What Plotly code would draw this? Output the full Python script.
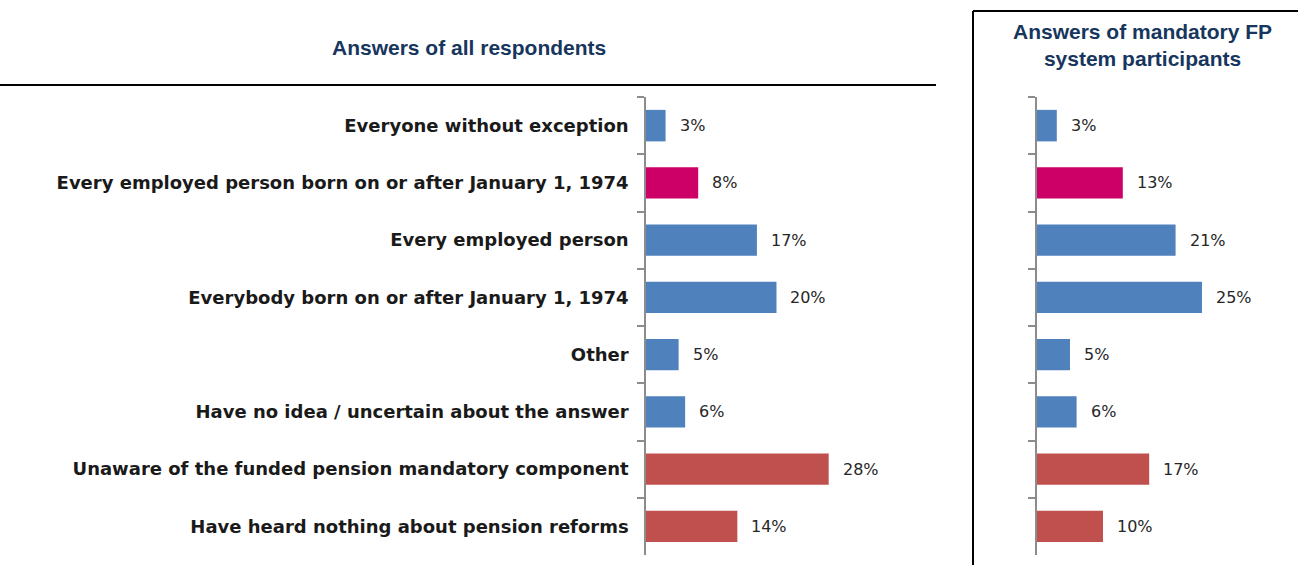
import plotly.graph_objects as go

# Survey answers: who participates in the mandatory funded pension component
categories = [
    "Everyone without exception",
    "Every employed person born on or after January 1, 1974",
    "Every employed person",
    "Everybody born on or after January 1, 1974",
    "Other",
    "Have no idea / uncertain about the answer",
    "Unaware of the funded pension mandatory component",
    "Have heard nothing about pension reforms",
]
all_respondents = [3, 8, 17, 20, 5, 6, 28, 14]
fp_participants = [3, 13, 21, 25, 5, 6, 17, 10]

BLUE = "#4F81BD"
MAGENTA = "#CC0066"
RED = "#C0504D"
bar_colors = [BLUE, MAGENTA, BLUE, BLUE, BLUE, BLUE, RED, RED]

title_left = "Answers of all respondents"
title_right = "Answers of mandatory FP<br>system participants"

W, H = 1298, 565
label_font = dict(family="DejaVu Sans", size=16, color="#262626")
cat_font = dict(family="DejaVu Sans", size=18, color="#1a1a1a", weight="bold")
title_font = dict(family="Liberation Sans", size=21, color="#17365D", weight="bold")

fig = go.Figure()
fig.add_trace(go.Bar(
    x=all_respondents, y=categories, orientation="h",
    marker=dict(color=bar_colors, line=dict(width=0)),
    xaxis="x", yaxis="y", hoverinfo="x+y",
))
fig.add_trace(go.Bar(
    x=fp_participants, y=categories, orientation="h",
    marker=dict(color=bar_colors, line=dict(width=0)),
    xaxis="x2", yaxis="y2", hoverinfo="x+y",
))

# value labels to the right of each bar
annotations = []
for xref, yref, vals in (("x", "y", all_respondents), ("x2", "y2", fp_participants)):
    for cat, v in zip(categories, vals):
        annotations.append(dict(
            x=v, y=cat, xref=xref, yref=yref, text=f"{v}%",
            showarrow=False, xanchor="left", yanchor="middle",
            xshift=12, font=label_font,
        ))

annotations.append(dict(
    x=469 / W, y=1 - 47 / H, xref="paper", yref="paper", text=title_left,
    showarrow=False, xanchor="center", yanchor="middle", font=title_font,
))
annotations.append(dict(
    x=1142 / W, y=1 - 45 / H, xref="paper", yref="paper", text=title_right,
    showarrow=False, xanchor="center", yanchor="middle", font=title_font,
))

y_dom = [(H - 555) / H, (H - 97) / H]
axis_common = dict(
    type="category", autorange="reversed", tickson="boundaries",
    ticks="outside", ticklen=7, tickcolor="#8c8c8c", tickwidth=1.5,
    showline=True, linecolor="#8c8c8c", linewidth=1.5,
    showgrid=False, zeroline=False, domain=y_dom,
)
x_common = dict(visible=False, showgrid=False, zeroline=False)

fig.update_layout(
    width=W, height=H,
    margin=dict(l=0, r=0, t=0, b=0),
    paper_bgcolor="white", plot_bgcolor="rgba(0,0,0,0)",
    showlegend=False, bargap=0.45,
    xaxis=dict(domain=[646 / W, 937 / W], range=[0, 44.6], **x_common),
    xaxis2=dict(domain=[1037 / W, 1297 / W], range=[0, 39.4], **x_common),
    yaxis=dict(anchor="x", tickfont=cat_font, ticklabelstandoff=12, **axis_common),
    yaxis2=dict(anchor="x2", showticklabels=False, **axis_common),
    annotations=annotations,
    shapes=[
        dict(type="line", xref="paper", yref="paper",
             x0=0, x1=936 / W, y0=1 - 85 / H, y1=1 - 85 / H,
             line=dict(color="black", width=2)),
        dict(type="line", xref="paper", yref="paper",
             x0=973 / W, x1=973 / W, y0=0, y1=1 - 11 / H,
             line=dict(color="black", width=2)),
        dict(type="line", xref="paper", yref="paper",
             x0=973 / W, x1=1, y0=1 - 11 / H, y1=1 - 11 / H,
             line=dict(color="black", width=2)),
    ],
)

fig.write_html("out.html")
